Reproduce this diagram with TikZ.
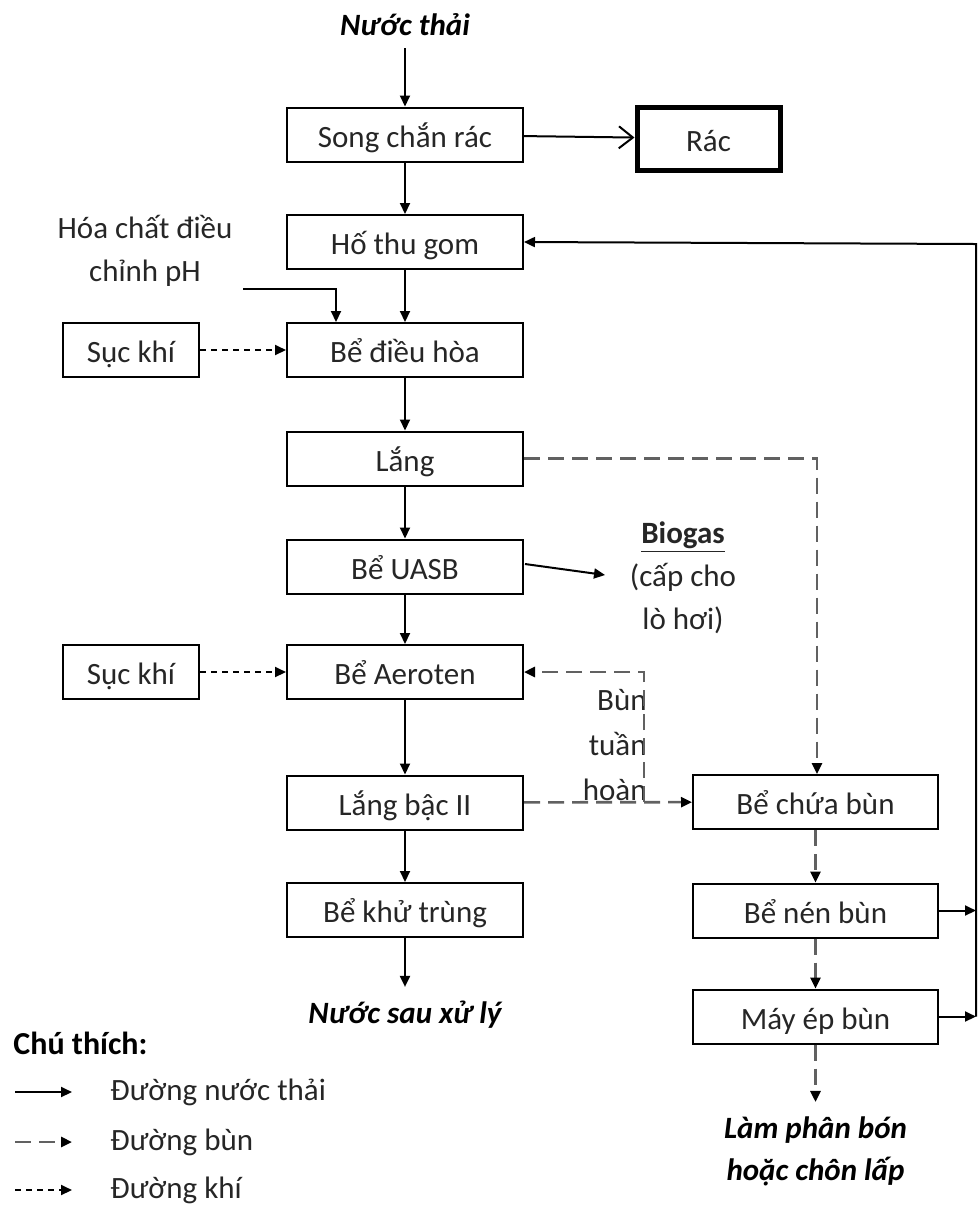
\documentclass[tikz,border=0pt]{standalone}
\usepackage{fontspec}
\setmainfont{Carlito}
\usetikzlibrary{arrows.meta}

\begin{document}
\begin{tikzpicture}[x=0.5pt,y=-0.5pt,
    box/.style={draw,line width=1pt,minimum width=118pt,minimum height=27pt,inner sep=0pt,text height=14pt,text depth=1.5pt,text=black!85,font=\fontsize{15.5}{19}\selectfont},
    flow/.style={line width=1pt,arrows={-Triangle[length=5.5pt,width=5pt]}},
    mud/.style={line width=1.3pt,draw=black!62,dash pattern=on 8pt off 4pt,arrows={-Triangle[length=5.5pt,width=5pt,color=black]}},
    air/.style={line width=1pt,dash pattern=on 3pt off 2.5pt,arrows={-Triangle[length=5.5pt,width=5pt]}},
    txt/.style={font=\fontsize{15.5}{21.5}\selectfont,align=center,inner sep=0pt,text=black!85},
    outlet/.style={font=\fontsize{15.5}{21}\selectfont\bfseries\itshape,align=center,inner sep=0pt}]
    \useasboundingbox (0,0) rectangle (979,1207);

    % main line
    \node[outlet] (nuocthai) at (405,25) {Nước thải};
    \node[box] (song) at (405,134.5) {Song chắn rác};
    \node[box,line width=2.5pt,minimum width=71.5pt,minimum height=31.5pt] (rac) at (708.5,138.5) {Rác};
    \node[box] (hothu) at (405,242) {Hố thu gom};
    \node[box] (dieuhoa) at (405,350) {Bể điều hòa};
    \node[box,minimum width=68pt] (sucA) at (131,350) {Sục khí};
    \node[box] (lang) at (405,458.5) {Lắng};
    \node[box] (uasb) at (405,566.5) {Bể UASB};
    \node[box,minimum width=68pt] (sucB) at (131,672) {Sục khí};
    \node[box] (aeroten) at (405,672) {Bể Aeroten};
    \node[box] (lang2) at (405,802.5) {Lắng bậc II};
    \node[box] (khutrung) at (405,910) {Bể khử trùng};
    \node[outlet] (nuocsau) at (405,1015) {Nước sau xử lý};

    % sludge line
    \node[box,minimum width=122.5pt] (chuabun) at (815.5,802) {Bể chứa bùn};
    \node[box,minimum width=122.5pt] (nenbun) at (815.5,910.5) {Bể nén bùn};
    \node[box,minimum width=122.5pt] (mayep) at (815.5,1016.5) {Máy ép bùn};
    \node[outlet] (lamphan) at (815.5,1151) {Làm phân bón\\hoặc chôn lấp};

    \node[txt] (hoachat) at (145,251) {Hóa chất điều\\chỉnh pH};
    \node[txt] (biogas) at (683,578) {\textbf{\underline{Biogas}}\\(cấp cho\\lò hơi)};
    \node[txt,anchor=east,align=right,font=\fontsize{15.5}{22.5}\selectfont] (bunth) at (647,745) {Bùn\\tuần\\hoàn};

    \coordinate (hc) at (243,289);
    \coordinate (bg) at (605,575);
    \coordinate (bt) at (644,802);
    \coordinate (rtop) at (976,244);
    \coordinate (rnen) at (976,910.5);
    \coordinate (rep) at (976,1016.5);

    \draw[flow] ([yshift=-6pt]nuocthai.south) -- (song);
    \draw[line width=1pt,arrows={-Straight Barb[length=7pt,width=11pt]}] (song) -- (rac);
    \foreach \a/\b in {song/hothu,hothu/dieuhoa,dieuhoa/lang,lang/uasb,uasb/aeroten,aeroten/lang2,lang2/khutrung}
        \draw[flow] (\a) -- (\b);
    \draw[flow] (khutrung) -- ([yshift=7pt]nuocsau.north);
    \draw[flow] (hc) -| ([xshift=-34.5pt]dieuhoa.north);
    \draw[flow] (uasb.east) ++(1,-2.5) -- (bg);
    \draw[air] (sucA) -- (dieuhoa);
    \draw[air] (sucB) -- (aeroten);

    \draw[mud] (lang.east) -| ([xshift=0.75pt]chuabun.north);
    \draw[mud] (lang2) -- (chuabun);
    \draw[mud] (bt) |- (aeroten.east);
    \draw[mud] (chuabun) -- (nenbun);
    \draw[mud] (nenbun) -- (mayep);
    \draw[mud] (mayep) -- ([yshift=7pt]lamphan.north);

    \draw[flow] (rep) -- (rtop) -- (hothu.east);
    \draw[flow] (nenbun) -- (rnen);
    \draw[flow] (mayep) -- (rep);

    % legend
    \node[anchor=west,inner sep=0pt,font=\fontsize{16}{19}\selectfont\bfseries] (chuthich) at (13,1043) {Chú thích:};
    \foreach \y/\s/\t [count=\i] in {1092/flow/Đường nước thải,1142/mud/Đường bùn,1190/air/Đường khí}{
        \node[txt,anchor=west] (leg\i) at (110,\y) {\t};
        \coordinate (ls\i) at (15,\y);
        \draw[\s] (ls\i) -- ([xshift=-19pt]leg\i.west);
    }
\end{tikzpicture}
\end{document}
